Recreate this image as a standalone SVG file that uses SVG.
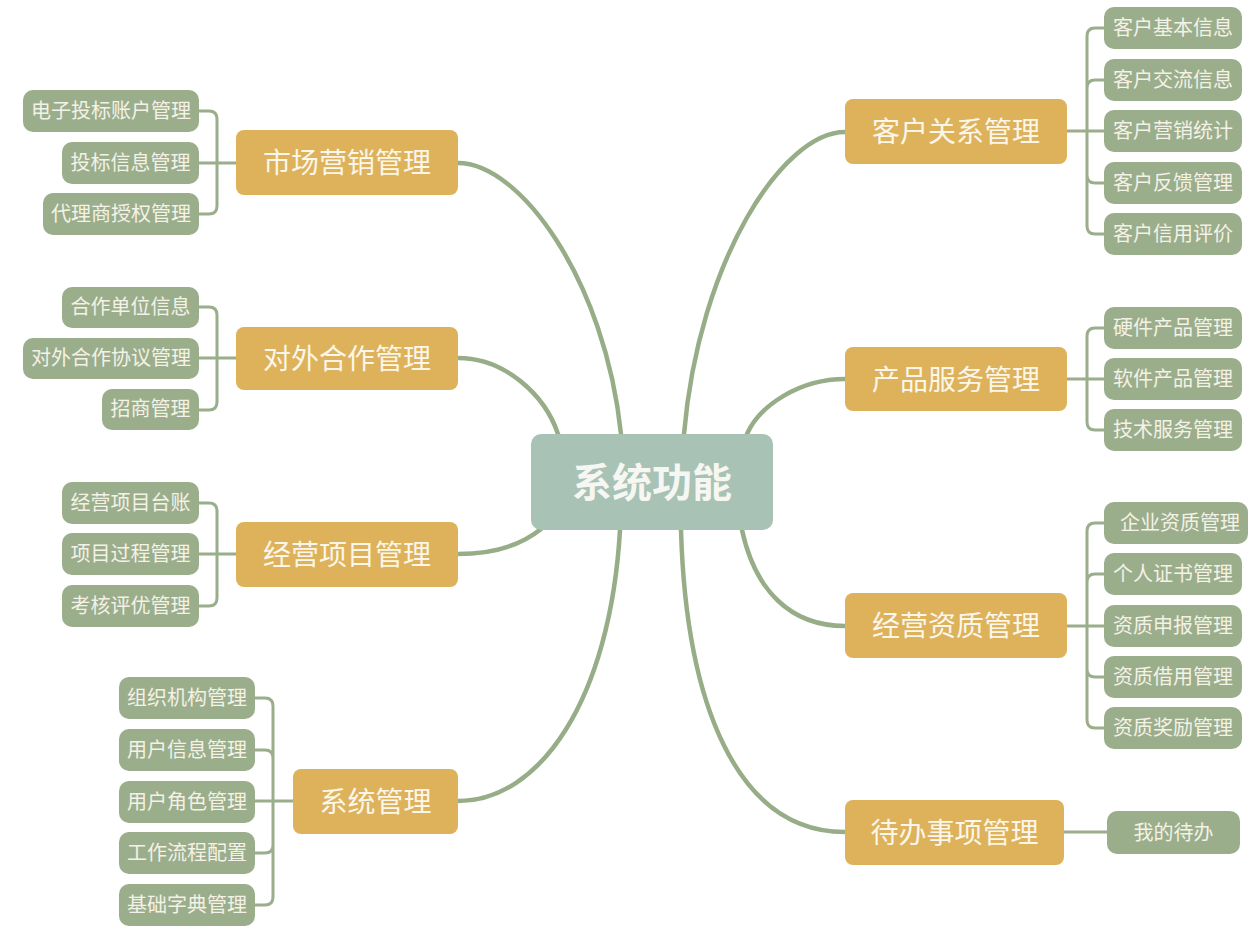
<svg xmlns="http://www.w3.org/2000/svg" width="1260" height="934" viewBox="0 0 1260 934">
<style>
.main{fill:#DDB25B}
.leaf{fill:#9BAE8C}
.center{fill:#A8C3B5}
.mt{font-family:"Noto Sans CJK SC","Noto Sans",sans-serif;font-size:28px;fill:#FBF6EA;text-anchor:middle}
.lt{font-family:"Noto Sans CJK SC","Noto Sans",sans-serif;font-size:20px;fill:#F4F1E6;text-anchor:middle}
.ct{font-family:"Noto Sans CJK SC","Noto Sans",sans-serif;font-size:40px;font-weight:bold;fill:#F6F6F3;text-anchor:middle}
.curve{fill:none;stroke:#97AD88;stroke-width:4.5;stroke-linecap:round}
.br{fill:none;stroke:#9BAE8C;stroke-width:3}
</style>
<rect width="1260" height="934" fill="#FFFFFF"/>
<g id="connectors">
<path class="curve" d="M458,163 C520,163 605,280 621,434"/>
<path class="curve" d="M458,358 C505,358 545,395 558,434"/>
<path class="curve" d="M458,554 C490,554 520,546 541,529"/>
<path class="curve" d="M458,801 C540,801 610,700 620,530"/>
<path class="curve" d="M845,132 C783,132 699,260 684,434"/>
<path class="curve" d="M845,379 C800,379 760,405 747,434"/>
<path class="curve" d="M845,626 C790,626 755,590 742,530"/>
<path class="curve" d="M845,832 C735,832 686,700 681,530"/>
<path class="br" d="M236,163 H217 M217,163 V119 Q217,111 209,111 H199 M217,163 H199 M217,163 V206 Q217,214 209,214 H199"/>
<path class="br" d="M236,358 H217 M217,358 V315 Q217,307 209,307 H199 M217,358 H199 M217,358 V402 Q217,410 209,410 H199"/>
<path class="br" d="M236,554 H217 M217,554 V511 Q217,503 209,503 H199 M217,554 H199 M217,554 V598 Q217,606 209,606 H199"/>
<path class="br" d="M293,801 H273 M273,801 V706 Q273,698 265,698 H255 M273,801 V758 Q273,750 265,750 H255 M273,801 H255 M273,801 V845 Q273,853 265,853 H255 M273,801 V897 Q273,905 265,905 H255"/>
<path class="br" d="M1067,131 H1087 M1087,131 V36 Q1087,28 1095,28 H1104 M1087,131 V88 Q1087,80 1095,80 H1104 M1087,131 H1104 M1087,131 V175 Q1087,183 1095,183 H1104 M1087,131 V226 Q1087,234 1095,234 H1104"/>
<path class="br" d="M1067,379 H1087 M1087,379 V336 Q1087,328 1095,328 H1104 M1087,379 H1104 M1087,379 V422 Q1087,430 1095,430 H1104"/>
<path class="br" d="M1067,626 H1087 M1087,626 V531 Q1087,523 1095,523 H1104 M1087,626 V582 Q1087,574 1095,574 H1104 M1087,626 H1104 M1087,626 V669 Q1087,677 1095,677 H1104 M1087,626 V720 Q1087,728 1095,728 H1104"/>
<path class="br" d="M1064,832 H1107"/>
</g>
<g id="center"><rect class="center" x="531" y="434" width="242" height="96" rx="10"/><text class="ct" x="652" y="497">系统功能</text></g>
<g id="n-market"><rect class="main" x="236" y="130" width="222" height="65" rx="8"/><text class="mt" x="347" y="173">市场营销管理</text></g>
<g id="l-m1"><rect class="leaf" x="23" y="90" width="176" height="42" rx="10"/><text class="lt" x="111" y="118">电子投标账户管理</text></g>
<g id="l-m2"><rect class="leaf" x="62" y="142" width="137" height="42" rx="10"/><text class="lt" x="130.5" y="170">投标信息管理</text></g>
<g id="l-m3"><rect class="leaf" x="43" y="193" width="156" height="42" rx="10"/><text class="lt" x="121" y="221">代理商授权管理</text></g>
<g id="n-coop"><rect class="main" x="236" y="327" width="222" height="63" rx="8"/><text class="mt" x="347" y="369">对外合作管理</text></g>
<g id="l-c1"><rect class="leaf" x="62" y="287" width="137" height="41" rx="10"/><text class="lt" x="130.5" y="314">合作单位信息</text></g>
<g id="l-c2"><rect class="leaf" x="23" y="338" width="176" height="41" rx="10"/><text class="lt" x="111" y="365">对外合作协议管理</text></g>
<g id="l-c3"><rect class="leaf" x="102" y="389" width="97" height="41" rx="10"/><text class="lt" x="150.5" y="416">招商管理</text></g>
<g id="n-proj"><rect class="main" x="236" y="522" width="222" height="65" rx="8"/><text class="mt" x="347" y="565">经营项目管理</text></g>
<g id="l-p1"><rect class="leaf" x="62" y="482" width="137" height="42" rx="10"/><text class="lt" x="130.5" y="510">经营项目台账</text></g>
<g id="l-p2"><rect class="leaf" x="62" y="533" width="137" height="42" rx="10"/><text class="lt" x="130.5" y="561">项目过程管理</text></g>
<g id="l-p3"><rect class="leaf" x="62" y="585" width="137" height="42" rx="10"/><text class="lt" x="130.5" y="613">考核评优管理</text></g>
<g id="n-sys"><rect class="main" x="293" y="769" width="165" height="65" rx="8"/><text class="mt" x="375.5" y="812">系统管理</text></g>
<g id="l-s1"><rect class="leaf" x="119" y="677" width="136" height="42" rx="10"/><text class="lt" x="187" y="705">组织机构管理</text></g>
<g id="l-s2"><rect class="leaf" x="119" y="729" width="136" height="42" rx="10"/><text class="lt" x="187" y="757">用户信息管理</text></g>
<g id="l-s3"><rect class="leaf" x="119" y="781" width="136" height="42" rx="10"/><text class="lt" x="187" y="809">用户角色管理</text></g>
<g id="l-s4"><rect class="leaf" x="119" y="832" width="136" height="42" rx="10"/><text class="lt" x="187" y="860">工作流程配置</text></g>
<g id="l-s5"><rect class="leaf" x="119" y="884" width="136" height="42" rx="10"/><text class="lt" x="187" y="912">基础字典管理</text></g>
<g id="n-crm"><rect class="main" x="845" y="99" width="222" height="65" rx="8"/><text class="mt" x="956" y="142">客户关系管理</text></g>
<g id="l-r1"><rect class="leaf" x="1104" y="7" width="138" height="42" rx="10"/><text class="lt" x="1173" y="35">客户基本信息</text></g>
<g id="l-r2"><rect class="leaf" x="1104" y="59" width="138" height="42" rx="10"/><text class="lt" x="1173" y="87">客户交流信息</text></g>
<g id="l-r3"><rect class="leaf" x="1104" y="110" width="138" height="42" rx="10"/><text class="lt" x="1173" y="138">客户营销统计</text></g>
<g id="l-r4"><rect class="leaf" x="1104" y="162" width="138" height="42" rx="10"/><text class="lt" x="1173" y="190">客户反馈管理</text></g>
<g id="l-r5"><rect class="leaf" x="1104" y="213" width="138" height="42" rx="10"/><text class="lt" x="1173" y="241">客户信用评价</text></g>
<g id="n-prod"><rect class="main" x="845" y="347" width="222" height="64" rx="8"/><text class="mt" x="956" y="390">产品服务管理</text></g>
<g id="l-d1"><rect class="leaf" x="1104" y="307" width="138" height="42" rx="10"/><text class="lt" x="1173" y="335">硬件产品管理</text></g>
<g id="l-d2"><rect class="leaf" x="1104" y="358" width="138" height="42" rx="10"/><text class="lt" x="1173" y="386">软件产品管理</text></g>
<g id="l-d3"><rect class="leaf" x="1104" y="409" width="138" height="42" rx="10"/><text class="lt" x="1173" y="437">技术服务管理</text></g>
<g id="n-qual"><rect class="main" x="845" y="593" width="222" height="65" rx="8"/><text class="mt" x="956" y="636">经营资质管理</text></g>
<g id="l-q1"><rect class="leaf" x="1104" y="502" width="144" height="42" rx="10"/><text class="lt" x="1180" y="530">企业资质管理</text></g>
<g id="l-q2"><rect class="leaf" x="1104" y="553" width="138" height="42" rx="10"/><text class="lt" x="1173" y="581">个人证书管理</text></g>
<g id="l-q3"><rect class="leaf" x="1104" y="605" width="138" height="42" rx="10"/><text class="lt" x="1173" y="633">资质申报管理</text></g>
<g id="l-q4"><rect class="leaf" x="1104" y="656" width="138" height="42" rx="10"/><text class="lt" x="1173" y="684">资质借用管理</text></g>
<g id="l-q5"><rect class="leaf" x="1104" y="707" width="138" height="42" rx="10"/><text class="lt" x="1173" y="735">资质奖励管理</text></g>
<g id="n-todo"><rect class="main" x="845" y="800" width="219" height="65" rx="8"/><text class="mt" x="954.5" y="843">待办事项管理</text></g>
<g id="l-t1"><rect class="leaf" x="1107" y="811" width="133" height="43" rx="10"/><text class="lt" x="1173.5" y="840">我的待办</text></g>
</svg>
